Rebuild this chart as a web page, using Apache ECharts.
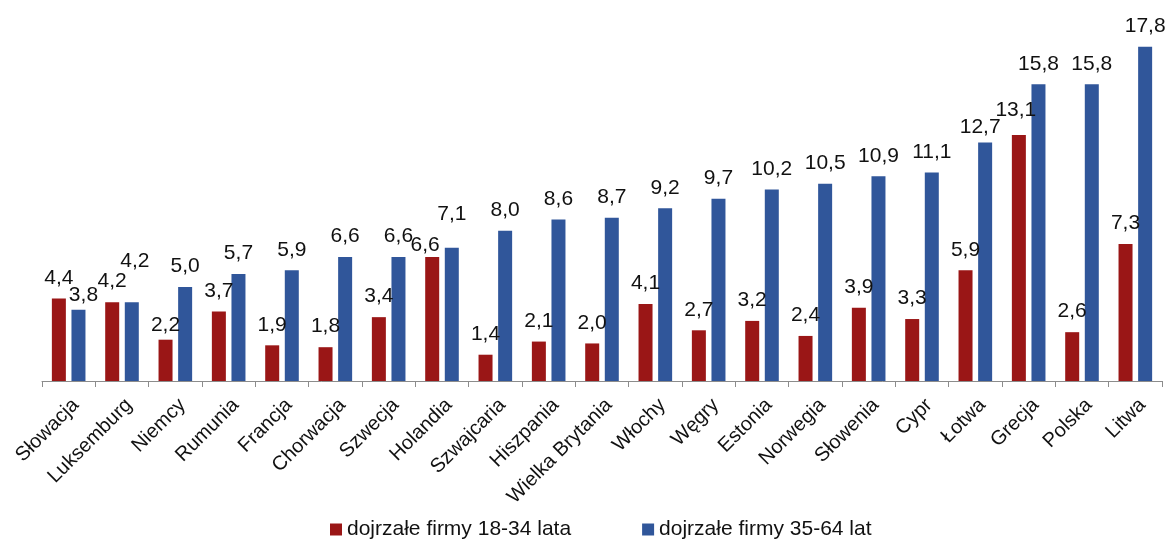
<!DOCTYPE html>
<html>
<head>
<meta charset="utf-8">
<script src="https://cdn.jsdelivr.net/npm/echarts@6/dist/echarts.min.js"></script>
<style>
  html, body { margin: 0; padding: 0; background: #fff; }
  #main { width: 1176px; height: 539px; }
</style>
</head>
<body>
<div id="main"></div>
<script>
const countries = ['Słowacja', 'Luksemburg', 'Niemcy', 'Rumunia', 'Francja', 'Chorwacja', 'Szwecja',
    'Holandia', 'Szwajcaria', 'Hiszpania', 'Wielka Brytania', 'Włochy', 'Węgry', 'Estonia',
    'Norwegia', 'Słowenia', 'Cypr', 'Łotwa', 'Grecja', 'Polska', 'Litwa'];
const firms1834 = [4.4, 4.2, 2.2, 3.7, 1.9, 1.8, 3.4, 6.6, 1.4, 2.1, 2.0, 4.1, 2.7, 3.2, 2.4, 3.9, 3.3, 5.9, 13.1, 2.6, 7.3];
const firms3564 = [3.8, 4.2, 5.0, 5.7, 5.9, 6.6, 6.6, 7.1, 8.0, 8.6, 8.7, 9.2, 9.7, 10.2, 10.5, 10.9, 11.1, 12.7, 15.8, 15.8, 17.8];
const seriesNames = ['dojrzałe firmy 18-34 lata', 'dojrzałe firmy 35-64 lat'];

// label nudges copied from the original, where two labels would collide
const redLabelNudge = { 'Niemcy': [0, 6], 'Holandia': [-7, 9], 'Grecja': [-3, -4] };
const blueLabelNudge = { 'Słowacja': [5, 6], 'Luksemburg': [3, -20], 'Holandia': [0, -13], 'Łotwa': [-5, 5] };

const font = 'Arial, "Liberation Sans", sans-serif';
const fmt = (p) => p.value.toFixed(1).replace('.', ',');

function withNudges(values, nudges) {
    return values.map((v, i) => {
        const n = nudges[countries[i]];
        return n ? { value: v, label: { offset: n } } : v;
    });
}

const myChart = echarts.init(document.getElementById('main'));

const labelStyle = {
    show: true,
    position: 'top',
    distance: 10,
    color: '#111',
    fontFamily: font,
    fontSize: 21,
    formatter: fmt
};

const option = {
    animation: false,
    textStyle: { fontFamily: font },
    legend: {
        left: 325,
        top: 514,
        itemWidth: 12,
        itemHeight: 12,
        itemGap: 71,
        icon: 'rect',
        textStyle: { fontFamily: font, fontSize: 21, color: '#111' },
        data: seriesNames
    },
    grid: { left: 42, right: 14, top: 43, bottom: 158 },
    xAxis: {
        type: 'category',
        data: countries,
        axisLine: { lineStyle: { color: '#8c8c8c', width: 1 } },
        axisTick: { show: true, length: 6, lineStyle: { color: '#8c8c8c' } },
        axisLabel: {
            rotate: 45,
            margin: 14,
            verticalAlign: 'top',
            color: '#111',
            fontFamily: font,
            fontSize: 20,
            interval: 0
        }
    },
    yAxis: {
        type: 'value',
        min: 0,
        max: 18,
        show: false,
        splitLine: { show: false }
    },
    series: [
        {
            name: seriesNames[0],
            type: 'bar',
            data: withNudges(firms1834, redLabelNudge),
            color: '#9A1616',
            barWidth: 14,
            barGap: '40%',
            label: labelStyle
        },
        {
            name: seriesNames[1],
            type: 'bar',
            data: withNudges(firms3564, blueLabelNudge),
            color: '#30569A',
            barWidth: 14,
            label: labelStyle
        }
    ]
};

myChart.setOption(option);
</script>
</body>
</html>
